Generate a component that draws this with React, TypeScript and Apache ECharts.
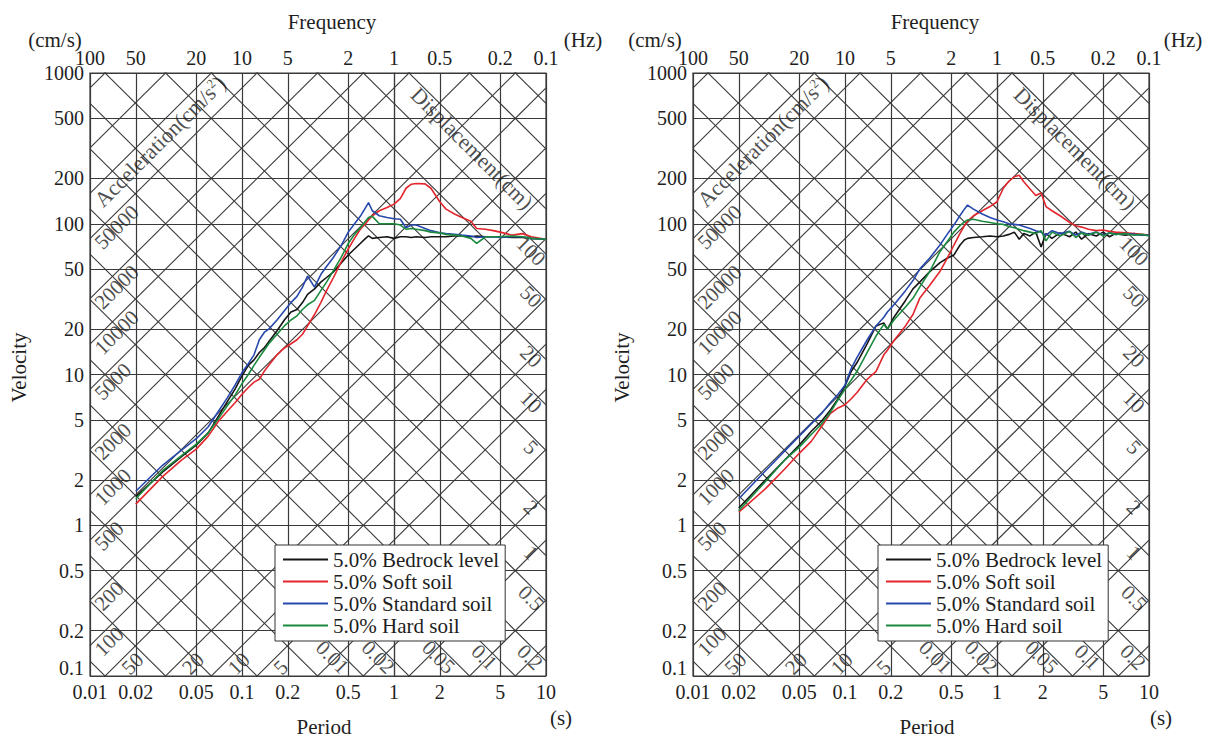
import React, { useEffect, useRef } from 'react';
import * as echarts from 'echarts';

// ---- axis ticks ----
const PERIOD_TICKS = [0.01, 0.02, 0.05, 0.1, 0.2, 0.5, 1, 2, 5, 10];
const VELOCITY_TICKS = [0.1, 0.2, 0.5, 1, 2, 5, 10, 20, 50, 100, 200, 500, 1000];

// ---- tripartite diagonal grid (acceleration cm/s^2, displacement cm) ----
const ACCEL_LINES = [0.1, 0.2, 0.5, 1, 2, 5, 10, 20, 50, 100, 200, 500, 1000, 2000, 5000, 10000, 20000, 50000, 100000, 200000, 500000];
const DISP_LINES = [0.0002, 0.0005, 0.001, 0.002, 0.005, 0.01, 0.02, 0.05, 0.1, 0.2, 0.5, 1, 2, 5, 10, 20, 50, 100, 200, 500, 1000];
const ACCEL_LEFT_LABELS = [100, 200, 500, 1000, 2000, 5000, 10000, 20000, 50000];
const ACCEL_BOTTOM_LABELS = [5, 10, 20, 50];
const DISP_RIGHT_LABELS = [0.5, 1, 2, 5, 10, 20, 50, 100];
const DISP_BOTTOM_LABELS = [0.01, 0.02, 0.05, 0.1, 0.2];
const ACCEL_TITLE_VALUE = 100000;
const DISP_TITLE_VALUE = 200;

const SERIES_NAMES = ['5.0% Bedrock level', '5.0% Soft soil', '5.0% Standard soil', '5.0% Hard soil'];

// ---- left panel ----
const PERIOD_L = [
  0.02, 0.03, 0.04, 0.05, 0.06, 0.07, 0.08, 0.09, 0.1, 0.11,
  0.12, 0.13, 0.14, 0.15, 0.17, 0.19, 0.21, 0.23, 0.25, 0.27,
  0.3, 0.33, 0.36, 0.4, 0.45, 0.5, 0.55, 0.6, 0.65, 0.68,
  0.72, 0.8, 0.9, 1.0, 1.1, 1.2, 1.3, 1.4, 1.6, 1.75,
  2.0, 2.2, 2.5, 2.8, 3.2, 3.5, 4.0, 4.5, 5, 6,
  7, 8, 10,
];
const BEDROCK_L = [
  1.55, 2.25, 2.85, 3.4, 4.1, 5.3, 6.6, 8.0, 9.8, 11.5,
  12.5, 14, 15, 16.5, 19.5, 23, 26, 27, 30, 34,
  37, 41, 44, 48, 55, 62, 68, 74, 80, 83,
  80, 81, 82, 80, 82, 82, 81, 82, 81, 82,
  82, 82, 83, 83, 82, 83, 82, 82, 82, 81,
  81, 80, 79,
];
const SOFT_L = [
  1.38, 2.1, 2.7, 3.2, 3.9, 4.9, 5.7, 6.5, 7.4, 8.2,
  8.9, 9.3, 10.5, 11.5, 13.5, 15, 16, 17, 18.5, 21,
  25, 30, 36, 44, 56, 68, 80, 92, 100, 106,
  113, 122, 128, 135, 147, 172, 183, 185, 184, 172,
  140, 125, 116, 110, 104, 93, 92, 90, 88, 84,
  86, 82, 79,
];
const STANDARD_L = [
  1.68, 2.5, 3.15, 3.75, 4.5, 5.7, 7.0, 8.5, 10.3, 11.8,
  13.5, 17, 19, 20, 23, 26.5, 30, 33, 38, 45,
  38, 46, 52, 60, 72, 88, 100, 112, 128, 138,
  122, 113, 110, 108, 107, 94, 98, 98, 93, 90,
  87, 86, 85, 84, 83, 81, 82, 82, 81, 82,
  82, 80, 79,
];
const HARD_L = [
  1.5, 2.3, 2.9, 3.45, 4.1, 5.1, 6.2, 7.3, 8.7, 10,
  11.5, 13, 14.5, 16, 18.5, 21, 23, 24.5, 27, 29,
  31, 36, 41, 49, 60, 74, 85, 94, 104, 110,
  112, 100, 100, 100, 98, 92, 93, 92, 90, 88,
  87, 85, 84, 83, 80, 74, 82, 82, 82, 83,
  82, 80, 79,
];

// ---- right panel ----
const PERIOD_R = [
  0.02, 0.03, 0.04, 0.05, 0.06, 0.07, 0.08, 0.09, 0.1, 0.11,
  0.12, 0.14, 0.16, 0.18, 0.19, 0.21, 0.25, 0.28, 0.31, 0.36,
  0.42, 0.47, 0.52, 0.57, 0.61, 0.64, 0.7, 0.8, 0.9, 1.0,
  1.1, 1.2, 1.3, 1.4, 1.5, 1.65, 1.8, 1.95, 2.1, 2.3,
  2.6, 3.0, 3.3, 3.6, 4.0, 4.5, 5.0, 5.5, 6.0, 7.0,
  8.0, 9.0, 10,
];
const BEDROCK_R = [
  1.3, 2.0, 2.7, 3.4, 4.2, 4.9, 5.8, 6.9, 8.4, 10.5,
  12, 16, 21, 22, 20, 24, 31, 37, 41, 48,
  55, 59, 62, 72, 78, 80, 81, 82, 83, 82,
  83, 85, 88, 79, 86, 83, 88, 70, 86, 80,
  87, 82, 88, 79, 86, 83, 88, 82, 86, 84,
  86, 84, 84,
];
const SOFT_R = [
  1.22, 1.75, 2.35, 3.0, 3.6, 4.5, 5.5, 6.0, 6.3, 6.9,
  7.6, 9.3, 10.5, 13.5, 14.5, 16.8, 21, 25, 32, 39,
  48, 59, 72, 86, 97, 104, 113, 122, 130, 140,
  172, 192, 205, 210, 190, 170, 154, 160, 130, 122,
  113, 102, 97, 95, 92, 90, 91, 89, 88, 87,
  86, 85, 84,
];
const STANDARD_R = [
  1.5, 2.3, 3.1, 3.9, 4.7, 5.5, 6.5, 7.4, 8.5, 11,
  13, 17, 21, 24, 26, 29, 36, 42, 50, 59,
  72, 85, 98, 113, 125, 133, 125, 116, 110, 106,
  103, 100, 99, 98, 96, 93, 90, 88, 84, 90,
  86, 89, 84, 88, 85, 88, 84, 87, 85, 86,
  85, 84, 84,
];
const HARD_R = [
  1.25, 1.95, 2.7, 3.3, 4.0, 4.7, 5.6, 6.8, 8.0, 9.2,
  10.5, 14, 18, 21.5, 20, 23, 28, 32, 38, 48,
  65, 76, 88, 97, 103, 106, 107, 104, 102, 100,
  99, 96, 94, 92, 90, 88, 86, 90, 77, 88,
  83, 89, 81, 87, 84, 88, 83, 87, 85, 86,
  84, 85, 83,
];

const COLORS = ['#151515', '#e2262c', '#2748ad', '#1c8a3e'];
const FONT = "'Liberation Serif', 'Times New Roman', Times, serif";
const TEXT = '#1e1e1e';
const GRIDC = '#3a3a3a';
const PX = 152; // pixels per decade (for label offsets only)
const LOG2PI = Math.log10(2 * Math.PI);

const lg = (v: number) => Math.log10(v);
const fmt = (v: number) => String(parseFloat(v.toPrecision(4)));

function panel(p: number, periods: number[], curves: number[][]) {
  const xi = p * 2;
  const yi = p;
  const series: any[] = [];
  const diag = { type: 'line', xAxisIndex: xi, yAxisIndex: yi, symbol: 'none', silent: true, clip: true, z: 1, lineStyle: { color: GRIDC, width: 1.1 } };
  ACCEL_LINES.forEach((a) => {
    series.push({ ...diag, data: [[-2, lg(a) - 2 - LOG2PI], [1, lg(a) + 1 - LOG2PI]] });
  });
  DISP_LINES.forEach((d) => {
    series.push({ ...diag, data: [[-2, lg(d) + LOG2PI + 2], [1, lg(d) + LOG2PI - 1]] });
  });
  curves.forEach((vals, k) => {
    series.push({
      type: 'line', name: SERIES_NAMES[k], xAxisIndex: xi, yAxisIndex: yi, symbol: 'none', z: 3, clip: true,
      lineStyle: { color: COLORS[k], width: 1.6 }, itemStyle: { color: COLORS[k] },
      data: periods.map((t, i) => [lg(t), lg(vals[i])]),
    });
  });
  // acceleration labels (along +45 deg lines)
  const accData: any[] = [];
  const lt0 = -2 + 8 / PX;
  ACCEL_LEFT_LABELS.forEach((a) => {
    accData.push({ name: String(a), value: [lt0, lg(a) + lt0 - LOG2PI - 15 / PX] });
  });
  const lvb = -1 + 20 / PX;
  ACCEL_BOTTOM_LABELS.forEach((a) => {
    accData.push({ name: String(a), value: [lvb - lg(a) + LOG2PI, lvb - 15 / PX] });
  });
  accData.push({
    name: 'Acceleration(cm/s2)',
    value: [lt0, lg(ACCEL_TITLE_VALUE) + lt0 - LOG2PI - 18 / PX],
    label: { formatter: 'Acceleration(cm/s{sup|2})', fontSize: 22 },
  });
  series.push({
    type: 'scatter', xAxisIndex: xi, yAxisIndex: yi, symbolSize: 1, silent: true, z: 4,
    itemStyle: { color: 'rgba(0,0,0,0)' },
    label: {
      show: true, position: 'inside', formatter: '{b}', rotate: 45, align: 'left', verticalAlign: 'middle',
      fontSize: 21, fontFamily: FONT, color: TEXT,
      rich: { sup: { fontSize: 13, fontFamily: FONT, color: TEXT, verticalAlign: 'top', padding: [0, 0, 10, 0] } },
    },
    data: accData,
  });
  // displacement labels (along -45 deg lines)
  const dspData: any[] = [];
  const ltr = 1 - 15 / PX;
  DISP_RIGHT_LABELS.forEach((d) => {
    dspData.push({ name: String(d), value: [ltr, lg(d) + LOG2PI - ltr - 12 / PX] });
  });
  const lvc = -1 + 19 / PX;
  DISP_BOTTOM_LABELS.forEach((d) => {
    dspData.push({ name: String(d), value: [lg(d) + LOG2PI - (lvc + 12 / PX), lvc] });
  });
  const ltd = 1 - 74 / PX;
  dspData.push({
    name: 'Displacement(cm)',
    value: [ltd, lg(DISP_TITLE_VALUE) + LOG2PI - ltd - 13 / PX],
    label: { fontSize: 22 },
  });
  series.push({
    type: 'scatter', xAxisIndex: xi, yAxisIndex: yi, symbolSize: 1, silent: true, z: 4,
    itemStyle: { color: 'rgba(0,0,0,0)' },
    label: {
      show: true, position: 'inside', formatter: '{b}', rotate: -45, align: 'center', verticalAlign: 'middle',
      fontSize: 21, fontFamily: FONT, color: TEXT,
    },
    data: dspData,
  });
  return series;
}

function buildOption(): any {
  const logPeriods = PERIOD_TICKS.map(lg);
  const logVel = VELOCITY_TICKS.map(lg);
  const lblStyle = { fontSize: 20, fontFamily: FONT, color: TEXT };
  const nameStyle = { fontSize: 21, fontFamily: FONT, color: TEXT };
  const lineSt = { show: true, lineStyle: { color: GRIDC, width: 1.2 } };
  const grids = [
    { left: 90, top: 73, width: 456, height: 608 },
    { left: 693, top: 73, width: 456, height: 608 },
  ];
  const xAxis: any[] = [];
  const yAxis: any[] = [];
  grids.forEach((_, g) => {
    xAxis.push({
      type: 'value', gridIndex: g, min: -2, max: 1, position: 'bottom',
      axisLine: lineSt, axisTick: { show: false, customValues: logPeriods },
      splitLine: lineSt,
      axisLabel: { ...lblStyle, margin: 6, customValues: logPeriods, formatter: (v: number) => fmt(Math.pow(10, v)) },
      name: 'Period', nameLocation: 'middle', nameGap: 40,
      nameTextStyle: { ...nameStyle, padding: [0, 0, 0, 12] },
    });
    xAxis.push({
      type: 'value', gridIndex: g, min: -2, max: 1, position: 'top',
      axisLine: lineSt, axisTick: { show: false, customValues: logPeriods },
      splitLine: { show: false },
      axisLabel: { ...lblStyle, margin: 5, customValues: logPeriods, formatter: (v: number) => fmt(1 / Math.pow(10, v)) },
      name: 'Frequency', nameLocation: 'middle', nameGap: 41,
      nameTextStyle: { ...nameStyle, padding: [0, 0, 0, 28] },
    });
    yAxis.push({
      type: 'value', gridIndex: g, min: -1, max: 3,
      axisLine: lineSt, axisTick: { show: false, customValues: logVel },
      splitLine: lineSt,
      axisLabel: {
        ...lblStyle, margin: 6, customValues: logVel,
        formatter: (v: number) => {
          const s = fmt(Math.pow(10, v));
          return Math.abs(v + 1) < 1e-6 ? `{lo|${s}}` : s;
        },
        rich: { lo: { ...lblStyle, padding: [0, 0, 16, 0] } },
      },
      name: 'Velocity', nameLocation: 'middle', nameGap: 61, nameRotate: 90,
      nameTextStyle: { ...nameStyle, padding: [0, 0, 0, 14] },
    });
  });

  const legendBase = {
    orient: 'vertical', top: 545, padding: [4, 6, 5, 8], itemGap: 1, itemWidth: 45, itemHeight: 2,
    icon: 'rect',
    backgroundColor: '#fff', borderColor: '#333', borderWidth: 1, selectedMode: false,
    textStyle: { fontSize: 21, fontFamily: FONT, color: TEXT, lineHeight: 21 },
    data: SERIES_NAMES,
  };

  const txt = (x: number, y: number, text: string) => ({
    type: 'text', x, y, silent: true, z: 10,
    style: { text, fontSize: 21, fontFamily: FONT, fill: TEXT, align: 'center', verticalAlign: 'middle' },
  });

  return {
    animation: false,
    backgroundColor: '#fff',
    grid: grids.map((g) => ({ ...g, show: true, borderColor: GRIDC, borderWidth: 1.2, backgroundColor: 'transparent' })),
    xAxis,
    yAxis,
    legend: [
      { ...legendBase, left: 275 },
      { ...legendBase, left: 878 },
    ],
    graphic: [
      txt(55, 40, '(cm/s)'),
      txt(583, 40, '(Hz)'),
      txt(561, 718, '(s)'),
      txt(655, 40, '(cm/s)'),
      txt(1183, 40, '(Hz)'),
      txt(1161, 718, '(s)'),
    ],
    series: [
      ...panel(0, PERIOD_L, [BEDROCK_L, SOFT_L, STANDARD_L, HARD_L]),
      ...panel(1, PERIOD_R, [BEDROCK_R, SOFT_R, STANDARD_R, HARD_R]),
    ],
  };
}

export default function App() {
  const ref = useRef<HTMLDivElement>(null);
  useEffect(() => {
    const chart = echarts.init(ref.current as HTMLDivElement, undefined, { renderer: 'svg' });
    chart.setOption(buildOption());
    return () => chart.dispose();
  }, []);
  return (
    <div
      ref={ref}
      style={{ position: 'fixed', left: 0, top: 0, width: 1206, height: 742, background: '#fff' }}
    />
  );
}
